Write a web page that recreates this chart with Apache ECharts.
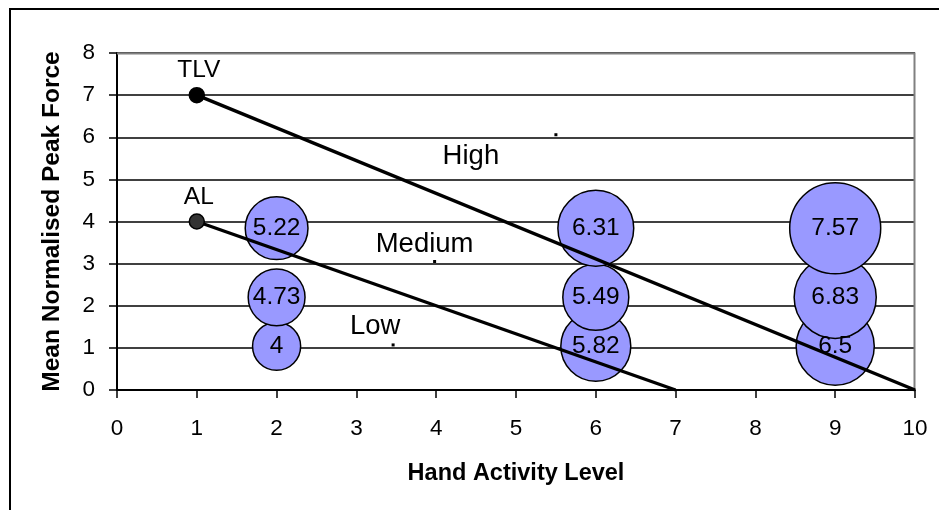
<!DOCTYPE html>
<html>
<head>
<meta charset="utf-8">
<script src="https://cdn.jsdelivr.net/npm/echarts@6/dist/echarts.min.js"></script>
<style>html,body{margin:0;padding:0;background:#fff}#c{width:939px;height:510px}</style>
</head>
<body>
<div id="c"></div>
<script>
// Bubble data: [hand activity level, mean normalised peak force, bubble value]
const bubbleX = [2, 6, 9, 2, 6, 9, 2, 6, 9];
const bubbleY = [1.04, 1.04, 1.04, 2.2, 2.2, 2.2, 3.84, 3.84, 3.84];
const bubbleVal = [4, 5.82, 6.5, 4.73, 5.49, 6.83, 5.22, 6.31, 7.57];
// Limit lines
const tlvLine = [[1, 7], [10, 0]];
const alLine = [[1, 4], [7, 0]];
// Zone labels
const zoneNames = ['High', 'Medium', 'Low'];
const zoneX = [5.5, 3.98, 3.46];
const zoneY = [6.06, 3.05, 1.07];
const xTicks = [0,1,2,3,4,5,6,7,8,9,10];
const yTicks = [0,1,2,3,4,5,6,7,8];

const FONT = '"Liberation Sans", Arial, sans-serif';
const chart = echarts.init(document.getElementById('c'), null, {renderer: 'canvas'});
const maxVal = Math.max(...bubbleVal);
const zoneOffsets = {High: [-85, 22], Medium: [-10, -17], Low: [-18, -19]};
const plainText = {color: '#000', textBorderWidth: 0, textBorderColor: 'transparent', textShadowBlur: 0};

function endpointSeries(pt, name, color) {
  return {
    type: 'scatter', z: 6,
    data: [{value: pt, name: name}],
    symbol: 'circle', symbolSize: 15,
    itemStyle: {color: color, borderColor: '#000', borderWidth: 1.5, opacity: 1},
    label: Object.assign({show: true, position: 'top', distance: 4, formatter: p => p.name, fontFamily: FONT, fontSize: 24.5, offset: [2, 0]}, plainText)
  };
}

chart.setOption({
  animation: false,
  backgroundColor: '#fff',
  grid: {left: 117, right: 24, top: 53, bottom: 120, show: false},
  graphic: [
    {type: 'rect', shape: {x: 10, y: 9, width: 1000, height: 600}, style: {fill: null, stroke: '#000', lineWidth: 2}, z: 100},
    {type: 'polyline', shape: {points: [[117, 53.5], [914.5, 53.5], [914.5, 390]]}, style: {fill: null, stroke: '#808080', lineWidth: 2}, z: 1}
  ],
  xAxis: {
    type: 'value', min: xTicks[0], max: xTicks[xTicks.length-1], interval: 1,
    name: 'Hand Activity Level', nameLocation: 'middle', nameGap: 72,
    nameTextStyle: {fontFamily: FONT, fontSize: 23.5, fontWeight: 'bold', color: '#000'},
    axisLine: {show: true, onZero: false, lineStyle: {color: '#000', width: 2}},
    axisTick: {show: true, inside: false, length: 8, lineStyle: {color: '#000', width: 1.5}},
    axisLabel: {fontFamily: FONT, fontSize: 22.5, color: '#000', margin: 27},
    splitLine: {show: false}
  },
  yAxis: {
    type: 'value', min: yTicks[0], max: yTicks[yTicks.length-1], interval: 1,
    name: 'Mean Normalised Peak Force', nameLocation: 'middle', nameGap: 52,
    nameTextStyle: {fontFamily: FONT, fontSize: 24.5, fontWeight: 'bold', color: '#000'},
    axisLine: {show: true, onZero: false, lineStyle: {color: '#000', width: 2}},
    axisTick: {show: true, inside: false, length: 8, lineStyle: {color: '#000', width: 1.5}},
    axisLabel: {fontFamily: FONT, fontSize: 22.5, color: '#000', margin: 22},
    splitLine: {show: true, lineStyle: {color: '#000', width: 1.5}}
  },
  series: [
    {
      type: 'scatter', z: 3,
      data: bubbleX.map((x, i) => [x, bubbleY[i], bubbleVal[i]]),
      symbol: 'circle',
      symbolSize: d => d[2] / maxVal * 91,
      itemStyle: {color: '#9999FF', borderColor: '#000', borderWidth: 1.5, opacity: 1},
      label: Object.assign({show: true, position: 'inside', formatter: p => String(p.data[2]), fontFamily: FONT, fontSize: 24.5}, plainText)
    },
    {
      type: 'scatter', z: 4,
      data: zoneNames.map((n, i) => ({value: [zoneX[i], zoneY[i]], name: n, label: {offset: zoneOffsets[n]}})),
      symbol: 'rect', symbolSize: 3,
      itemStyle: {color: '#000', opacity: 1},
      label: Object.assign({show: true, position: 'inside', formatter: p => p.name, fontFamily: FONT, fontSize: 27.5}, plainText)
    },
    {
      type: 'line', z: 5, data: tlvLine, symbol: 'none',
      lineStyle: {color: '#000', width: 3.4}
    },
    {
      type: 'line', z: 5, data: alLine, symbol: 'none',
      lineStyle: {color: '#000', width: 3.4}
    },
    endpointSeries(tlvLine[0], 'TLV', '#000'),
    endpointSeries(alLine[0], 'AL', '#333')
  ]
});
</script>
</body>
</html>
